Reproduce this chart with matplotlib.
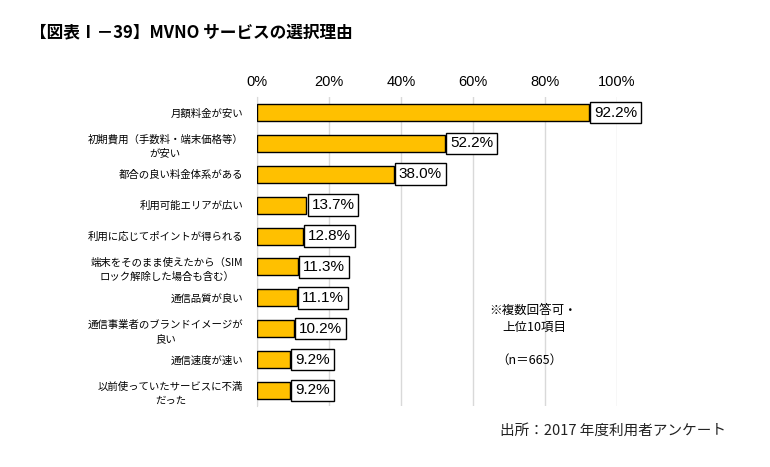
import matplotlib.pyplot as plt
import numpy as np

plt.rcParams['font.family'] = ['Noto Sans CJK JP', 'DejaVu Sans']

# data
labels = ["月額料金が安い", "初期費用（手数料・端末価格等）\nが安い", "都合の良い料金体系がある",
          "利用可能エリアが広い", "利用に応じてポイントが得られる",
          "端末をそのまま使えたから（SIM\nロック解除した場合も含む）", "通信品質が良い",
          "通信事業者のブランドイメージが\n良い", "通信速度が速い", "以前使っていたサービスに不満\nだった"]
values = [92.2, 52.2, 38.0, 13.7, 12.8, 11.3, 11.1, 10.2, 9.2, 9.2]
ticks = [0, 20, 40, 60, 80, 100]

fig = plt.figure(figsize=(7.7, 4.67), dpi=100)
ax = fig.add_axes([0.334, 0.131, 0.467, 0.661])

y = np.arange(len(values))
ax.barh(y, values, height=0.55, color="#FFC000", edgecolor="black", linewidth=1.0, zorder=3)
ax.set_ylim(len(values) - 0.5, -0.5)
ax.set_xlim(0, 100)
ax.set_xticks(ticks)
ax.set_xticklabels([f"{t}%" for t in ticks], fontsize=10.5, family=['Liberation Sans', 'DejaVu Sans'])
ax.xaxis.tick_top()
ax.tick_params(axis='x', length=0, pad=6)
ax.set_yticks(y)
ax.set_yticklabels(labels, fontsize=7.5, linespacing=1.5, ha='right', multialignment='center')
ax.tick_params(axis='y', length=0, pad=10)
ax.grid(axis='x', color="#d9d9d9", linewidth=1.0, zorder=0)
for s in ["top", "right", "bottom"]:
    ax.spines[s].set_visible(False)
ax.spines["left"].set_color("#d9d9d9")

for yi, v in zip(y, values):
    ax.text(v + 1.4, yi, f"{v:.1f}%", va='center', ha='left', fontsize=11,
            family=['Liberation Sans', 'DejaVu Sans'],
            bbox=dict(boxstyle="square,pad=0.25", fc="white", ec="black", lw=1.0), zorder=4)

fig.text(0.039, 0.93, "【図表Ⅰ－39】MVNO サービスの選択理由", fontsize=12, fontweight='bold', va='center')
fig.text(0.636, 0.336, "※複数回答可・", fontsize=9, va='center')
fig.text(0.652, 0.298, "上位10項目", fontsize=9, va='center')
fig.text(0.645, 0.229, "（n＝665）", fontsize=9, va='center')
fig.text(0.65, 0.077, "出所：2017 年度利用者アンケート", fontsize=10.5, va='center', color="#222222")

fig.savefig("out.png", dpi=100)
